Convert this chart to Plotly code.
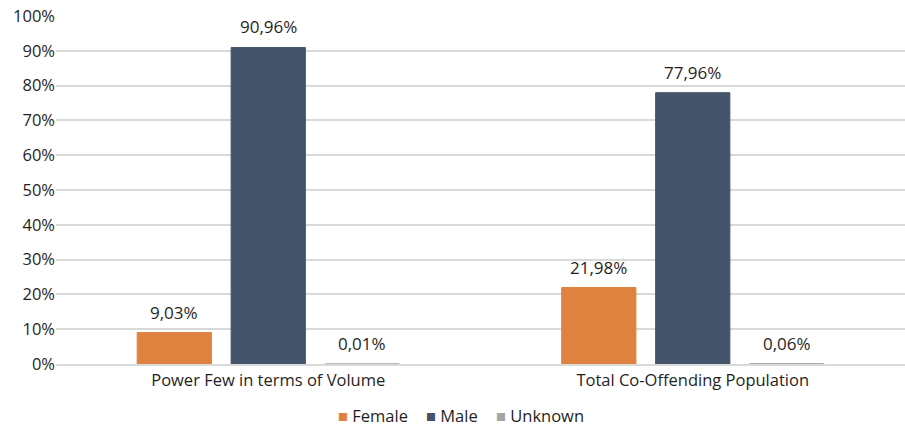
import plotly.graph_objects as go

categories = ["Power Few in terms of Volume", "Total Co-Offending Population"]
female = [9.03, 21.98]
male = [90.96, 77.96]
unknown = [0.01, 0.06]

series = [
    ("Female", female, "#E0823F"),
    ("Male", male, "#44546A"),
    ("Unknown", unknown, "#A5A5A5"),
]

TEXT = "#1F1F1F"
FONT = "Open Sans, Noto Sans, sans-serif"

fig = go.Figure()
for name, vals, color in series:
    fig.add_trace(go.Bar(
        x=categories, y=vals, name=name,
        marker=dict(color=color, line=dict(color=color, width=1)),
    ))

# value labels above each bar (pixel offset per series within the group)
offsets = [-94, 0, 94]
for (name, vals, color), dx in zip(series, offsets):
    for cat, v in zip(categories, vals):
        fig.add_annotation(
            x=cat, y=v, xref="x", yref="y",
            text=f"{v:.2f}".replace(".", ",") + "%",
            showarrow=False, xshift=dx, yshift=7, yanchor="bottom",
            font=dict(size=17, color=TEXT),
        )

# legend row drawn as square swatches followed by series names,
# sitting just above the bottom edge of the figure
plot_h = 429 - 16 - 65
legend_x = [337, 425, 495]
for (name, vals, color), px in zip(series, legend_x):
    fig.add_annotation(
        x=(px - 56) / 849, y=(364 - 428) / plot_h, xref="paper", yref="paper",
        text=f"<span style='color:{color}'>■</span> {name}",
        showarrow=False, xanchor="left", yanchor="bottom", borderpad=0,
        font=dict(size=16.5, color=TEXT, family=FONT),
    )

fig.update_layout(
    width=905, height=429,
    margin=dict(l=56, r=0, t=16, b=65),
    paper_bgcolor="white", plot_bgcolor="white",
    font=dict(family=FONT, size=16.5, color=TEXT),
    barmode="group", bargap=0.336, bargroupgap=0.21,
    showlegend=False,
)
fig.update_yaxes(range=[0, 100], dtick=10, ticksuffix="%", showgrid=True,
                 gridcolor="#D9D9D9", gridwidth=1.5, zeroline=False,
                 ticks="", tickfont=dict(size=16.5), fixedrange=True)
fig.update_xaxes(showline=True, linecolor="#D9D9D9", linewidth=1.5,
                 ticks="", tickfont=dict(size=16.5))

fig.write_html("out.html")
